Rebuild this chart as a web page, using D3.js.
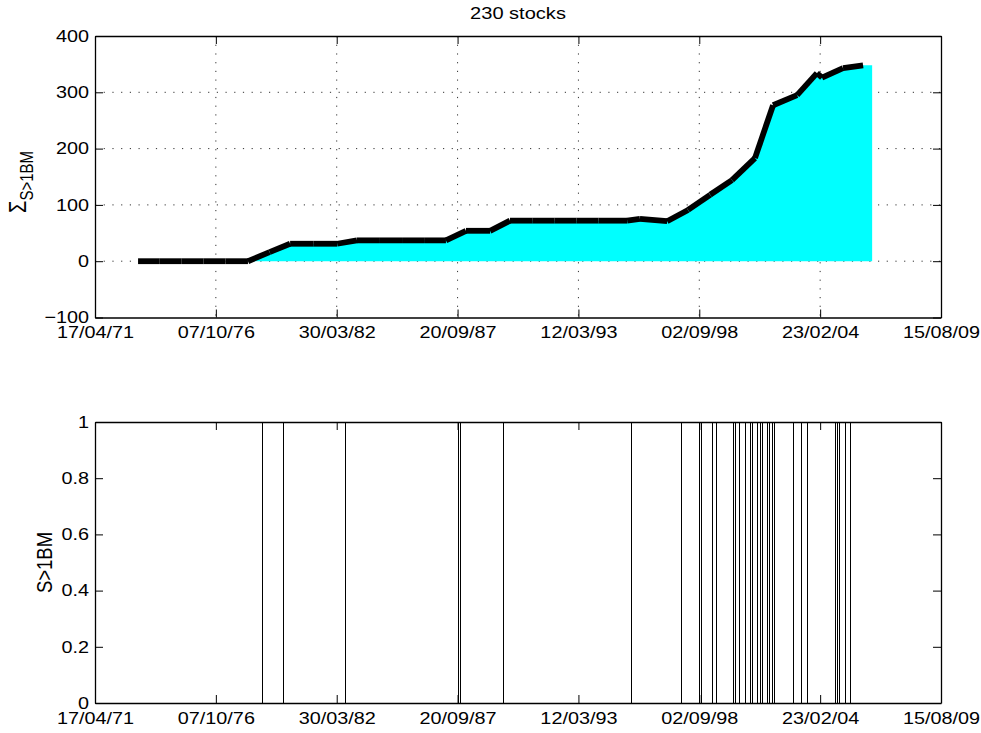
<!DOCTYPE html>
<html>
<head>
<meta charset="utf-8">
<script src="https://cdn.jsdelivr.net/npm/d3@7"></script>
<style>
body { margin: 0; background: #fff; }
text { font-family: "Liberation Sans", Arial, Helvetica, sans-serif; fill: #000; }
</style>
</head>
<body>
<svg class="chart"></svg>
<script>
// values, dates kept as decimal years
var tickDates = ["1971-04-17","1976-10-07","1982-03-30","1987-09-20","1993-03-12","1998-09-02","2004-02-23","2009-08-15"];
var sumTicks = [-100, 0, 100, 200, 300, 400];
var flagTicks = [0, 0.2, 0.4, 0.6, 0.8, 1];

var lineYears = [1973.24,1974.2,1975.2,1976.2,1977.2,1978.22,1979.2,1980.13,1981.2,1982.26,
  1983.16,1984.2,1985.2,1986.2,1987.19,1988.10,1989.19,1990.09,1991.1,1992.1,1993.1,1994.1,
  1995.40,1995.98,1997.21,1998.16,1999.16,2000.15,2001.19,2002.01,2003.10,2004.00,2004.23,
  2005.18,2006.09];
var lineValues = [0,0,0,0,0,0,16,31,31,31,
  37,37,37,37,37,54,54,72,72,72,72,72,
  72,75,71,91,118,144,183,277,295,334,326,
  343,348];
var areaEndYear = 2006.50;

var eventYears = [1978.86,1979.81,1979.85,1982.66,1987.78,1987.83,1989.82,1995.58,1997.84,
  1998.70,1998.79,1999.29,1999.43,2000.20,2000.33,2000.47,2000.74,2001.01,2001.10,2001.29,
  2001.42,2001.51,2001.74,2001.83,2001.97,2002.06,2002.92,2003.28,2003.55,2004.82,2004.91,
  2005.00,2005.27,2005.50];

var width = 981, height = 733;
var left = 95, right = 941;
var top1 = 36, bottom1 = 317.5;
var top2 = 422, bottom2 = 703;
var sx = 1.18;   // the text in the picture is wider than plain Arial
var tickLen = 8;

function yearToDate(y) {
  var yr = Math.floor(y);
  var a = Date.UTC(yr, 0, 1), b = Date.UTC(yr + 1, 0, 1);
  return new Date(a + (y - yr) * (b - a));
}
function parseDay(s) {
  var p = s.split("-");
  return new Date(Date.UTC(+p[0], +p[1] - 1, +p[2]));
}
var fmt = d3.utcFormat("%d/%m/%y");
var ticks = tickDates.map(parseDay);

var chart = d3.select(".chart").attr("width", width).attr("height", height);
chart.append("rect").attr("width", width).attr("height", height).attr("fill", "#fff");

var x = d3.scaleUtc().domain([ticks[0], ticks[ticks.length - 1]]).range([left, right]);
var y1 = d3.scaleLinear().domain([-100, 400]).range([bottom1, top1]);
var y2 = d3.scaleLinear().domain([0, 1]).range([bottom2, top2]);

function frame(yScale, yTicks, yFmt, yTop, yBottom) {
  var g = chart.append("g");
  g.append("g").attr("transform", "translate(0," + yBottom + ")")
    .call(d3.axisBottom(x).tickValues(ticks).tickFormat(fmt).tickSizeInner(-tickLen).tickSizeOuter(0).tickPadding(9));
  g.append("g").attr("transform", "translate(0," + yTop + ")")
    .call(d3.axisTop(x).tickValues(ticks).tickFormat("").tickSizeInner(-tickLen).tickSizeOuter(0));
  g.append("g").attr("transform", "translate(" + left + ",0)")
    .call(d3.axisLeft(yScale).tickValues(yTicks).tickFormat(yFmt).tickSizeInner(-tickLen).tickSizeOuter(0).tickPadding(5));
  g.append("g").attr("transform", "translate(" + right + ",0)")
    .call(d3.axisRight(yScale).tickValues(yTicks).tickFormat("").tickSizeInner(-tickLen).tickSizeOuter(0));
  g.selectAll(".domain").attr("stroke", "#000").attr("stroke-width", 1.3);
  g.selectAll(".tick line").attr("stroke", "#000").attr("stroke-width", 1);
  g.selectAll(".tick text")
    .attr("font-family", null)
    .style("font-size", "16.8px")
    .attr("transform", "scale(" + sx + ",1)");
  return g;
}

// top panel: grid, area, thick line
var grid = chart.append("g").attr("stroke", "#333").attr("stroke-width", 1).attr("stroke-dasharray", "1.2,7.5");
grid.selectAll(".gx").data(ticks.slice(1, -1)).enter().append("line")
  .attr("x1", function(d) { return x(d); }).attr("x2", function(d) { return x(d); })
  .attr("y1", top1).attr("y2", bottom1);
grid.selectAll(".gy").data(sumTicks.slice(1, -1)).enter().append("line")
  .attr("x1", left).attr("x2", right)
  .attr("y1", function(d) { return y1(d); }).attr("y2", function(d) { return y1(d); });

var pts = lineYears.map(function(yr, i) { return { date: yearToDate(yr), v: lineValues[i] }; });
var areaPts = pts.concat([{ date: yearToDate(areaEndYear), v: lineValues[lineValues.length - 1] }]);

chart.append("path")
  .datum(areaPts)
  .attr("fill", "#00ffff")
  .attr("d", d3.area().x(function(d) { return x(d.date); }).y0(y1(0)).y1(function(d) { return y1(d.v); }));

// matlab draws each piece of a wide line on its own, so do the same
var segs = d3.pairs(pts);
chart.append("g").selectAll("line").data(segs).enter().append("line")
  .attr("x1", function(d) { return x(d[0].date); })
  .attr("y1", function(d) { return y1(d[0].v); })
  .attr("x2", function(d) { return x(d[1].date); })
  .attr("y2", function(d) { return y1(d[1].v); })
  .attr("stroke", "#000")
  .attr("stroke-width", 5.8)
  .attr("stroke-linecap", "butt");

frame(y1, sumTicks, d3.format("d"), top1, bottom1);

// bottom panel: one thin line for each date with S>1BM
chart.append("g").attr("shape-rendering", "crispEdges")
  .selectAll("line").data(eventYears).enter().append("line")
  .attr("x1", function(d) { return x(yearToDate(d)); })
  .attr("x2", function(d) { return x(yearToDate(d)); })
  .attr("y1", y2(0)).attr("y2", y2(1))
  .attr("stroke", "#000").attr("stroke-width", 1);

frame(y2, flagTicks, function(d) { return d3.format("~g")(d); }, top2, bottom2);

// labels
chart.append("text")
  .attr("transform", "translate(" + (left + right) / 2 + ",19) scale(" + sx + ",1)")
  .attr("text-anchor", "middle")
  .style("font-size", "17px")
  .text("230 stocks");

var yl1 = chart.append("text")
  .attr("transform", "translate(26,182) scale(" + sx + ",1) rotate(-90)")
  .attr("text-anchor", "middle")
  .style("font-size", "20px");
yl1.append("tspan").text("Σ");
yl1.append("tspan").attr("dy", 6).style("font-size", "15px").text("S>1BM");

chart.append("text")
  .attr("transform", "translate(51.5," + (top2 + bottom2) / 2 + ") scale(" + sx + ",1) rotate(-90)")
  .attr("text-anchor", "middle")
  .style("font-size", "18.5px")
  .text("S>1BM");
</script>
</body>
</html>
